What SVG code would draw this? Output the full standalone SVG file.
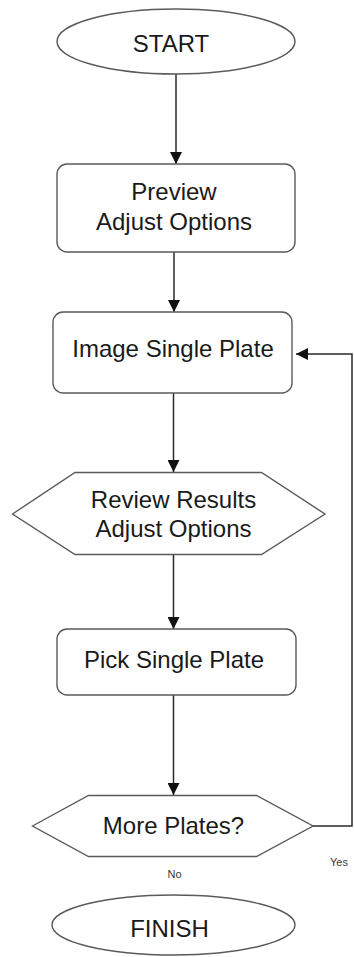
<svg xmlns="http://www.w3.org/2000/svg" width="354" height="957" viewBox="0 0 354 957">
  <style>
    .shape { fill: #ffffff; stroke: #5a5a5a; stroke-width: 1.4; }
    .label { font-family: "Liberation Sans", Arial, sans-serif; font-size: 24px; fill: #1a1a1a; text-anchor: middle; }
    .small { font-family: "Liberation Sans", Arial, sans-serif; font-size: 11px; fill: #3a3535; }
    .edge { fill: none; stroke: #2a2a2a; stroke-width: 1.5; marker-end: url(#arrow); }
  </style>
  <defs>
    <marker id="arrow" viewBox="0 0 12 12" refX="12" refY="6" markerWidth="12" markerHeight="12" markerUnits="userSpaceOnUse" orient="auto">
      <path d="M0,0 L12,6 L0,12 Z" fill="#111111"/>
    </marker>
  </defs>
  <rect width="354" height="957" fill="#ffffff"/>

  <g id="connectors">
    <line class="edge" x1="176" y1="74" x2="176" y2="164"/>
    <line class="edge" x1="174" y1="252" x2="174" y2="312"/>
    <line class="edge" x1="173.5" y1="393" x2="173.5" y2="472"/>
    <line class="edge" x1="173.5" y1="554" x2="173.5" y2="629"/>
    <line class="edge" x1="173.5" y1="695" x2="173.5" y2="795"/>
    <polyline class="edge" points="313,826 352,826 352,354 296,354"/>
  </g>

  <g id="start">
    <ellipse class="shape" cx="176" cy="41.5" rx="119" ry="32.5"/>
    <text class="label" x="171" y="52">START</text>
  </g>

  <g id="preview">
    <rect class="shape" x="57" y="164" width="238" height="88" rx="10"/>
    <text class="label" x="174" y="200">Preview</text>
    <text class="label" x="174" y="230">Adjust Options</text>
  </g>

  <g id="image-plate">
    <rect class="shape" x="53" y="312" width="239" height="81" rx="10"/>
    <text class="label" x="173" y="357">Image Single Plate</text>
  </g>

  <g id="review">
    <polygon class="shape" points="12.5,514 75,472.5 261.5,472.5 325,514 261.5,554.5 75,554.5"/>
    <text class="label" x="173.5" y="508">Review Results</text>
    <text class="label" x="173.5" y="537">Adjust Options</text>
  </g>

  <g id="pick-plate">
    <rect class="shape" x="57" y="629" width="239" height="66" rx="10"/>
    <text class="label" x="174" y="668">Pick Single Plate</text>
  </g>

  <g id="more-plates">
    <polygon class="shape" points="32.5,826 88.5,795.5 256.5,795.5 313,826 256.5,856.5 88.5,856.5"/>
    <text class="label" x="173.5" y="834">More Plates?</text>
    <text class="small" x="330" y="866">Yes</text>
    <text class="small" x="174.5" y="878" text-anchor="middle">No</text>
  </g>

  <g id="finish">
    <ellipse class="shape" cx="173.5" cy="925" rx="121.5" ry="30"/>
    <text class="label" x="169.5" y="937">FINISH</text>
  </g>
</svg>
